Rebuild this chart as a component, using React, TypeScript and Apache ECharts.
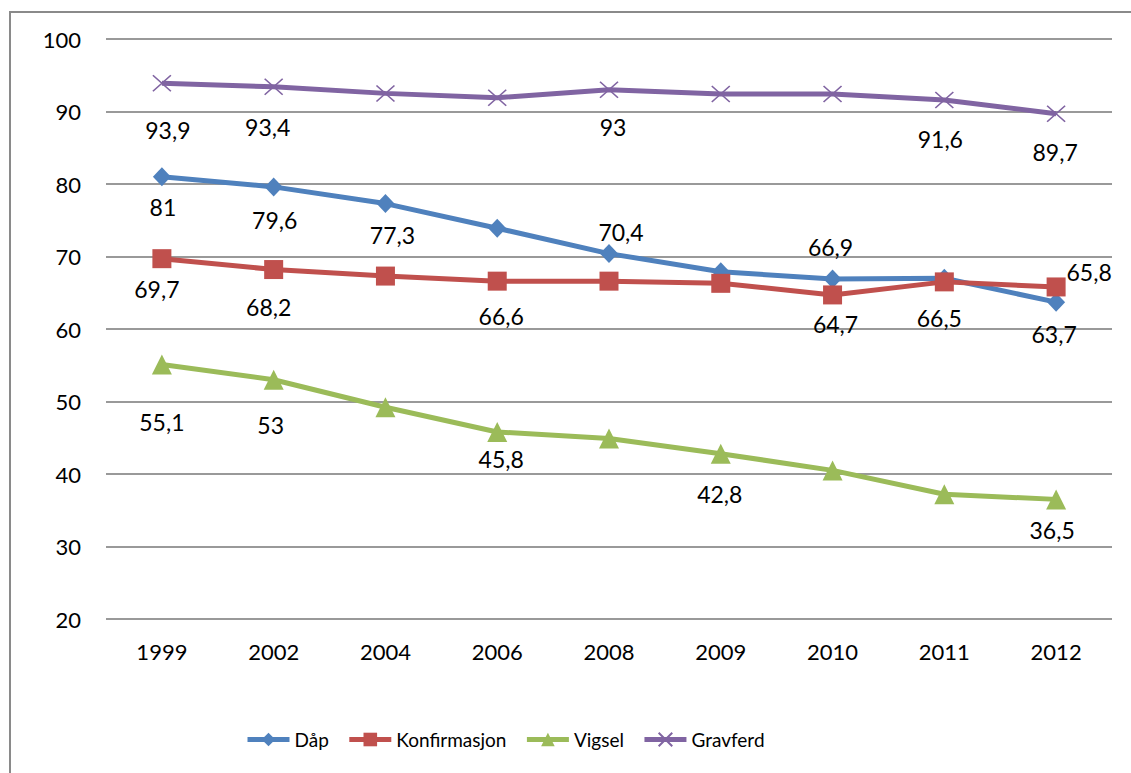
import React, { useEffect, useRef } from "react";
import * as echarts from "echarts";

// ---- data ----
const years = ["1999", "2002", "2004", "2006", "2008", "2009", "2010", "2011", "2012"];
const seriesNames = ["Dåp", "Konfirmasjon", "Vigsel", "Gravferd"];
const dapValues = [81, 79.6, 77.3, 73.9, 70.4, 67.9, 66.9, 67.0, 63.7];
const konfValues = [69.7, 68.2, 67.3, 66.6, 66.6, 66.3, 64.7, 66.5, 65.8];
const vigselValues = [55.1, 53, 49.2, 45.8, 44.9, 42.8, 40.5, 37.2, 36.5];
const gravferdValues = [93.9, 93.4, 92.5, 91.9, 93, 92.4, 92.4, 91.6, 89.7];
const yMin = 20;
const yMax = 100;
const yInterval = 10;

// ---- label placement (visual config: [dx, dy] from marker, null = no label) ----
const dapLabelPos: (number[] | null)[] = [[1, 30], [1, 33], [7, 31], null, [12, -22], null, [-2, -32], null, [-2, 32]];
const konfLabelPos: (number[] | null)[] = [[-5, 30], [-5, 37], null, [4, 35], null, null, [3, 29], [-5, 36], [33, -15]];
const vigselLabelPos: (number[] | null)[] = [[0, 57], [-3, 45], null, [4, 27], null, [-1, 40], null, null, [-4, 31]];
const gravferdLabelPos: (number[] | null)[] = [[6, 47], [-6, 40], null, null, [4, 37], null, null, [-4, 39], [-1, 38]];

const FONT = "Lato, 'Noto Sans', sans-serif";

function buildData(values: number[], pos: (number[] | null)[]) {
  return values.map((v, i) => ({
    value: v,
    label: pos[i]
      ? { show: true, position: "inside", offset: pos[i] }
      : { show: false },
  }));
}

export default function App() {
  const ref = useRef<HTMLDivElement>(null);
  useEffect(() => {
    if (!ref.current) return;
    const chart = echarts.init(ref.current, undefined, { renderer: "svg" });
    const labelCommon = {
      fontFamily: FONT,
      fontSize: 23,
      color: "#000",
      formatter: (p: any) => String(p.value).replace(".", ","),
    };
    const mk = (
      name: string,
      values: number[],
      pos: (number[] | null)[],
      color: string,
      symbol: string,
      symbolSize: number | number[],
      extraItem: any = {}
    ) => ({
      name,
      type: "line",
      data: buildData(values, pos),
      symbol,
      symbolSize,
      showAllSymbol: true,
      lineStyle: { color, width: 5 },
      itemStyle: { color, ...extraItem },
      label: labelCommon,
      emphasis: { disabled: true },
    });
    chart.setOption({
      animation: false,
      backgroundColor: "#fff",
      textStyle: { fontFamily: FONT },
      graphic: [
        {
          type: "rect",
          shape: { x: 10, y: 12, width: 1300, height: 900 },
          style: { fill: "none", stroke: "#8a8a8a", lineWidth: 2 },
          silent: true,
        },
      ],
      grid: { left: 106, right: 19, top: 39, bottom: 154 },
      legend: {
        data: seriesNames,
        left: 240,
        top: 725,
        itemWidth: 42,
        itemHeight: 17,
        itemGap: 18,
        lineStyle: { width: 5 },
        textStyle: { fontFamily: FONT, fontSize: 19, color: "#000" },
      },
      xAxis: {
        type: "category",
        data: years,
        boundaryGap: true,
        axisLine: { show: false },
        axisTick: { show: false },
        axisLabel: { fontFamily: FONT, fontSize: 22, color: "#000", margin: 21 },
      },
      yAxis: {
        type: "value",
        min: yMin,
        max: yMax,
        interval: yInterval,
        axisLine: { show: false },
        axisTick: { show: false },
        axisLabel: { fontFamily: FONT, fontSize: 22, color: "#000", margin: 25 },
        splitLine: { lineStyle: { color: "#999999", width: 1.8 } },
      },
      series: [
        mk(seriesNames[0], dapValues, dapLabelPos, "#4F81BD", "diamond", [18, 19]),
        mk(seriesNames[1], konfValues, konfLabelPos, "#C0504D", "rect", 19),
        mk(seriesNames[2], vigselValues, vigselLabelPos, "#9BBB59", "triangle", 20),
        mk(
          seriesNames[3],
          gravferdValues,
          gravferdLabelPos,
          "#8064A2",
          "path://M0,0L10,10M10,0L0,10",
          [18, 16],
          { borderColor: "#8064A2", borderWidth: 1.5 }
        ),
      ],
    });
    return () => chart.dispose();
  }, []);
  return (
    <div
      ref={ref}
      style={{ position: "absolute", left: 0, top: 0, width: 1131, height: 773 }}
    />
  );
}
